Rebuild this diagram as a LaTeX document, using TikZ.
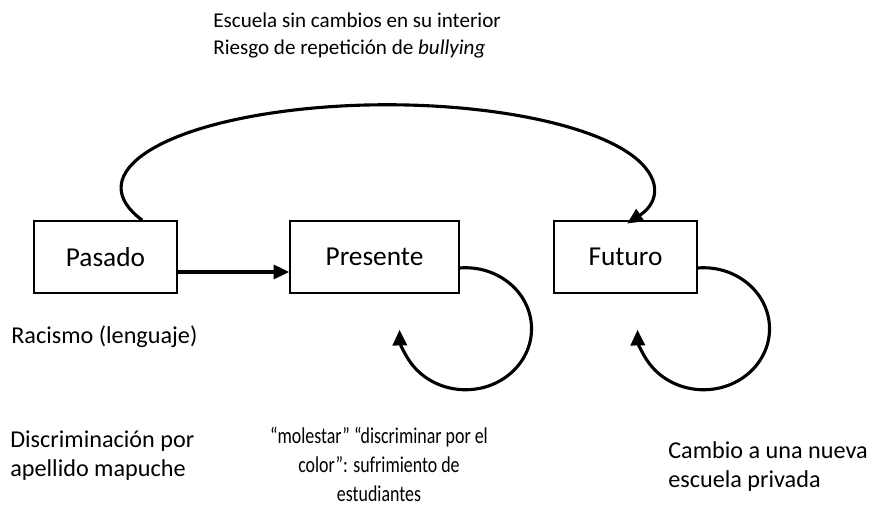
\documentclass[tikz,border=0pt]{standalone}
\usepackage{graphicx}
\usepackage{fontspec}
\setmainfont{Carlito}
\usetikzlibrary{arrows.meta, calc}
\newlength\pxu
\setlength\pxu{0.0225cm}

\begin{document}
\begin{tikzpicture}[x=\pxu, y=\pxu,
    caja/.style={draw, line width=1pt, minimum width=143\pxu, minimum height=72\pxu, inner sep=0pt,
      font=\fontsize{17.5}{20}\selectfont},
    texto/.style={inner sep=0pt, align=left, font=\fontsize{15.5}{18.3}\selectfont},
    flecha/.style={line width=2pt, -{Triangle[length=10pt, width=9pt]}}]
    \useasboundingbox (0,0) rectangle (890,508);
    % cajas
    \node[caja] (pasado) at (105.5,251) {Pasado};
    \node[caja, minimum width=169\pxu] (presente) at (374.5,251) {Presente};
    \node[caja] (futuro) at (625.5,251) {Futuro};
    % textos
    \node[texto, anchor=base west, font=\fontsize{13.5}{17.3}\selectfont] (arriba) at (213,453)
      {Escuela sin cambios en su interior\\Riesgo de repetición de \textit{bullying}};
    \node[texto, anchor=base west] (racismo) at (11,164) {Racismo (lenguaje)};
    \node[texto, anchor=base west] (apellido) at (10,31.5) {Discriminación por\\apellido mapuche};
    \node[texto, anchor=base, font=\fontsize{14.5}{18.8}\selectfont] (molestar) at (379,6)
      {\scalebox{0.79}[1]{\begin{tabular}[b]{@{}c@{}}“molestar” “discriminar por el\\color”: sufrimiento de\\estudiantes\end{tabular}}};
    \node[texto, anchor=base west] (cambio) at (668,20.5) {Cambio a una nueva\\escuela privada};
    % flechas
    \draw[flecha] ([yshift=-15\pxu]pasado.east) -- ([yshift=-15\pxu]presente.west);
    \draw[flecha] (pasado.45) arc[start angle=203, end angle=-25.5, x radius=266, y radius=83];
    \draw[flecha] ([yshift=-11\pxu]presente.east) arc[start angle=95, end angle=-179, x radius=66, y radius=61];
    \draw[flecha] ([yshift=-11\pxu]futuro.east) arc[start angle=95, end angle=-179, x radius=66, y radius=61];
\end{tikzpicture}
\end{document}
